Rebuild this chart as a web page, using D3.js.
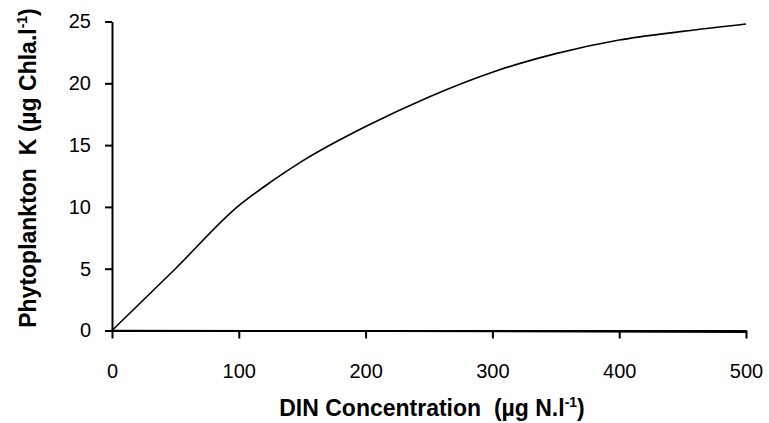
<!DOCTYPE html>
<html><head><meta charset="utf-8">
<script src="https://cdn.jsdelivr.net/npm/d3@7"></script>
<style>
body{margin:0;background:#fff;}
text{font-family:Arial,"Liberation Sans",sans-serif;}
</style></head>
<body><svg id="c" width="769" height="423"></svg>
<script>
const din = [0, 50, 100, 125, 150, 200, 250, 300, 350, 400, 450, 500];
const phytoK = [0, 5.0, 10.1, 12.0, 13.7, 16.5, 18.9, 20.9, 22.4, 23.5, 24.2, 24.8];
const baseX = [0, 500];
const baseY = [0, -0.13];
const xTicks = [0, 100, 200, 300, 400, 500];
const yTicks = [0, 5, 10, 15, 20, 25];

const svg = d3.select("#c");
const x = d3.scaleLinear().domain([0, 500]).range([112, 746]);
const y = d3.scaleLinear().domain([0, 25]).range([330.5, 21.5]);

const xAxis = svg.append("g").attr("transform", `translate(0,${y(0)})`)
  .call(d3.axisBottom(x).tickValues(xTicks).tickSize(8).tickPadding(25).tickSizeOuter(0));
const yAxis = svg.append("g").attr("transform", `translate(${x(0)},0)`)
  .call(d3.axisLeft(y).tickValues(yTicks).tickSize(7).tickPadding(14).tickSizeOuter(0));
[xAxis, yAxis].forEach(a => {
  a.selectAll("path,line").attr("stroke", "#000").attr("stroke-width", 2);
  a.selectAll("text").attr("font-size", 20).attr("fill", "#000")
   .attr("font-family", "Arial, 'Liberation Sans', sans-serif");
});

const line = d3.line().x(d => x(d[0])).y(d => y(d[1])).curve(d3.curveMonotoneX);
svg.append("path").datum(din.map((d, i) => [d, phytoK[i]]))
  .attr("d", line).attr("fill", "none").attr("stroke", "#000").attr("stroke-width", 1.6);
svg.append("path").datum(baseX.map((d, i) => [d, baseY[i]]))
  .attr("d", line).attr("fill", "none").attr("stroke", "#000").attr("stroke-width", 1.6);

const xt = svg.append("text").attr("x", 432).attr("y", 416).attr("text-anchor", "middle")
  .attr("font-size", 23).attr("font-weight", "bold");
xt.append("tspan").text("DIN Concentration\u00a0\u00a0(µg N.l");
xt.append("tspan").attr("font-size", 14).attr("dy", -9).text("-1");
xt.append("tspan").attr("dy", 9).text(")");

const yt = svg.append("text").attr("transform", "translate(36,168) rotate(-90)")
  .attr("text-anchor", "middle").attr("font-size", 23).attr("font-weight", "bold");
yt.append("tspan").text("Phytoplankton\u00a0\u00a0K (µg Chla.l");
yt.append("tspan").attr("font-size", 14).attr("dy", -9).text("-1");
yt.append("tspan").attr("dy", 9).text(")");
</script></body></html>
